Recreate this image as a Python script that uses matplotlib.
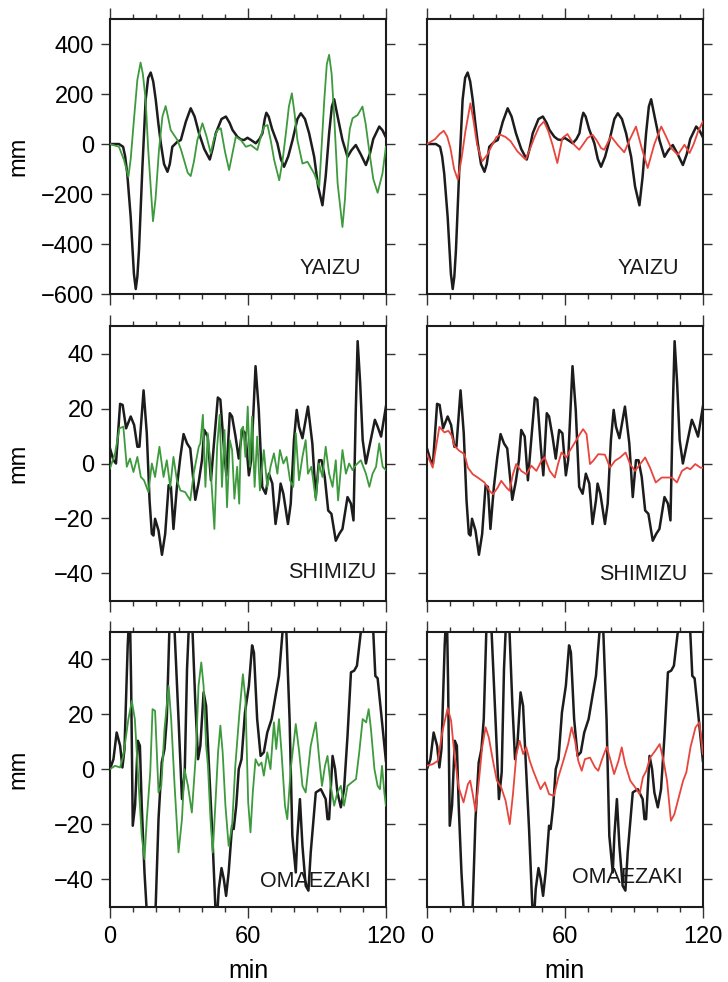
import matplotlib.pyplot as plt
from matplotlib.ticker import MultipleLocator, FixedLocator

plt.rcParams['font.family'] = ['Liberation Sans', 'DejaVu Sans']

# ---- YAIZU ----
yaizu_obs_t = [0, 3.9, 5.7, 6.6, 7.5, 9.0, 10.4, 11.2, 11.9, 12.6, 14.1, 15.5, 16.6, 17.7,
               18.8, 19.9, 21.0, 22.1, 23.5, 25.0, 26.0, 27.1, 29.3, 30.8, 33.0, 35.1, 36.8,
               38.7, 41.0, 43.4, 44.6, 46.0, 48.5, 50.4, 52.0, 53.3, 55.4, 57.0, 58.3, 59.8,
               61.5, 63.4, 65.0, 66.3, 67.3, 68.0, 69.0, 70.5, 72.8, 74.3, 75.7, 77.5, 79.4,
               81.5, 83.0, 84.8, 86.6, 88.8, 90.5, 92.4, 93.8, 95.3, 96.5, 97.5, 99.0, 101.1,
               103.3, 105.0, 106.9, 109.0, 111.3, 113.0, 114.5, 117.1, 118.5, 120]
yaizu_obs = [0, 0, -11, -50, -118, -292, -519, -580, -530, -425, -91, 177, 265, 286,
             250, 177, 85, 3, -80, -111, -80, -11, 9, 16, 90, 143, 110,
             43, -20, -62, -20, 43, 100, 110, 85, 56, 29, 18, 16, 25,
             15, 3, 20, 43, 100, 125, 110, 60, 3, -60, -91, -50, 16,
             100, 123, 100, 43, -51, -170, -245, -130, 43, 150, 179, 110, 16,
             -51, -25, -4, -40, -84, -40, 20, 70, 55, 27]
yaizu_a_t = [0, 3.9, 6.1, 8.0, 9.0, 10.4, 11.9, 13.3, 14.3, 15.5, 16.6, 17.7, 18.7, 19.8,
             21.3, 22.8, 24.2, 25.2, 26.4, 29.3, 30.8, 32.2, 33.8, 35.1, 36.5, 38.0, 40.2,
             42.0, 43.8, 45.2, 46.7, 48.2, 50.0, 51.8, 53.2, 54.7, 56.9, 59.1, 61.2, 64.1,
             65.6, 67.0, 68.5, 70.0, 71.4, 73.6, 75.0, 76.5, 77.8, 79.1, 80.3, 81.5, 83.7,
             85.9, 88.8, 91.0, 92.1, 93.2, 94.3, 95.3, 96.4, 97.5, 99.0, 101.1, 102.2, 103.3,
             104.3, 105.5, 107.7, 109.8, 111.2, 112.7, 114.5, 116.4, 118.5, 120]
yaizu_a = [0, -11, -64, -131, -60, 96, 257, 326, 280, 177, -20, -171, -309, -220,
           -24, 110, 152, 110, 56, 16, -20, -64, -115, -128, -70, 16, 83,
           30, -37, 20, 56, 63, -30, -104, -40, 29, 16, -11, -4, -24,
           30, 70, 76, 10, -64, -145, -70, 43, 150, 203, 120, 16, -78,
           -71, -118, -171, 0, 177, 320, 357, 280, 110, -158, -332, -220, -24,
           60, 103, 116, 150, 80, -24, -140, -195, -118, -11]
yaizu_b_t = [0, 3.6, 5.5, 7.3, 8.8, 10.2, 11.8, 13.4, 15.0, 16.7, 18.9, 20.3, 21.8, 24.0,
             26.2, 28.4, 30.2, 32.0, 34.2, 36.4, 39.3, 42.9, 44.8, 46.6, 48.8, 50.9, 52.8,
             54.6, 56.7, 58.9, 61.1, 64.0, 66.2, 68.0, 69.8, 72.0, 73.8, 75.7, 77.1, 80.0,
             82.9, 85.8, 88.3, 90.9, 93.5, 96.0, 98.9, 101.9, 104.0, 106.2, 109.1, 112.0,
             114.2, 116.0, 117.9, 120]
yaizu_b = [0, 20, 40, 53, 30, -16, -100, -142, -60, 50, 163, 90, -3, -69,
           -43, -3, 28, 37, 28, 11, -29, -62, -20, 24, 70, 90, 50,
           -3, -76, 24, 40, -3, -23, 0, 24, 37, 15, -16, -23, 31,
           -3, -33, 20, 70, -20, -96, 0, 70, 30, -16, -43, -3,
           -36, 0, 50, 90]

# ---- SHIMIZU ----
shimizu_obs_t = [0, 1.5, 2.6, 4.4, 5.5, 7.0, 9.0, 10.5, 11.9, 12.8, 14.6, 16.0, 17.2, 18.2,
                 18.9, 19.6, 21.1, 22.6, 24.0, 25.5, 26.5, 27.6, 29.1, 30.6, 32.0, 33.5, 34.9,
                 37.1, 38.6, 40.0, 41.0, 42.5, 43.9, 45.1, 46.9, 48.0, 49.5, 50.6, 52.1, 53.1,
                 54.6, 56.0, 57.5, 58.9, 60.4, 61.4, 63.3, 64.7, 66.2, 67.7, 69.1, 70.6, 72.0,
                 73.5, 74.2, 75.4, 77.4, 78.6, 80.0, 81.2, 82.2, 83.7, 85.1, 86.1, 88.0, 89.5,
                 90.9, 92.0, 93.4, 94.9, 96.3, 98.2, 99.7, 101.1, 103.3, 104.8, 105.9, 106.9,
                 107.7, 108.8, 109.9, 111.3, 112.8, 115.2, 116.4, 117.9, 119.3, 120]
shimizu_obs = [5.5, 1.2, 0, 21.7, 21.3, 12.8, 17.1, 14.0, 6.1, 6.1, 26.6, 11.0, -13.4, -25.6,
               -26.2, -20.1, -24.4, -33.2, -25.6, -7.9, -8.5, -23.8, -8.5, 2.4, 10.7, 7.3, 5.5,
               -13.2, -6.7, 1.2, 12.2, 9.8, -6.1, 6.1, 24.0, 23.2, 6.1, -4.3, 18.3, 17.1,
               9.8, 1.8, 12.2, 11.0, -4.3, 1.2, 35.4, 19.5, -8.5, -11.0, -3.7, -7.3, -22.0,
               -13.4, -7.3, -11.0, -22.0, -14.6, 8.5, 19.5, 13.4, 9.2, 15.9, 20.7, 7.3, -12.2,
               1.2, 1.2, -4.9, -17.1, -18.3, -28.1, -25.6, -23.8, -12.2, -14.6, -20.7, 19.5,
               44.5, 29.3, 8.5, 0, 6.1, 15.9, 13.4, 9.8, 17.1, 20.7]
shimizu_a_t = [0, 2.2, 4.1, 5.8, 7.3, 8.7, 10.2, 11.9, 13.4, 14.8, 16.7, 18.2, 19.6, 21.5,
               23.3, 24.7, 26.2, 27.6, 29.1, 30.6, 32.7, 34.9, 36.4, 38.6, 39.3, 40.4, 41.5,
               42.5, 43.7, 45.4, 46.6, 47.7, 48.7, 49.8, 50.9, 52.1, 53.1, 54.1, 55.3, 56.2,
               57.0, 57.9, 58.9, 59.9, 60.8, 61.8, 62.9, 64.0, 65.2, 66.9, 68.4, 69.8, 71.3,
               72.8, 73.9, 75.4, 76.8, 78.3, 79.7, 80.8, 82.2, 83.7, 85.1, 86.1, 87.6, 89.5,
               90.9, 92.4, 93.8, 95.3, 96.8, 98.2, 99.2, 101.1, 102.6, 104.0, 105.5, 106.9,
               109.1, 111.3, 112.8, 114.2, 115.7, 117.1, 118.6, 120]
shimizu_a = [-1.8, 3.7, 12.8, 13.4, -1.2, 1.8, -3.1, 2.4, -4.9, -6.1, -10.4, 0, -4.9, 6.1,
             -4.9, 1.2, -8.5, 2.4, -6.1, -9.8, -10.4, -13.4, -3.7, 6.1, 7.3, 17.7, -8.5,
             11.0, -1.2, -23.8, 6.1, 17.7, -8.5, 12.2, -15.9, 8.5, 4.9, -12.8, -1.2, -14.6,
             12.2, 13.4, 2.4, 20.7, -1.2, 17.1, -8.5, 9.8, -9.8, 4.9, -8.5, -1.2, 3.7,
             -3.7, 4.9, 0, 2.4, -6.1, -8.5, 11.0, -6.1, 2.4, 8.5, -3.7, -1.2, -13.4,
             0, -4.9, 6.1, -3.7, -8.5, 1.2, -13.4, 4.9, -3.7, 0, -2.4, -0.6,
             1.2, -3.7, -8.5, -3.7, -1.2, 7.3, -1.2, -2.4]
shimizu_b_t = [0, 2.5, 3.9, 5.4, 7.6, 9.3, 10.8, 11.9, 14.1, 16.3, 17.8, 19.9, 22.1, 25.0,
               27.2, 28.7, 30.8, 32.3, 34.5, 35.9, 37.4, 38.8, 41.0, 43.2, 45.4, 47.6, 49.8,
               51.2, 53.4, 55.6, 57.0, 58.5, 60.7, 62.1, 64.3, 66.5, 67.9, 69.4, 70.9, 72.3,
               74.5, 77.4, 79.6, 81.8, 84.0, 86.4, 88.3, 90.5, 92.7, 94.9, 97.0, 99.5, 102.1,
               104.3, 106.5, 108.7, 110.9, 113.1, 114.5, 116.7, 118.9, 120]
shimizu_b = [3.4, -1.5, 5.8, 13.3, 11.3, 11.9, 10.1, 6.4, 4.6, 3.4, -1.5, -3.9, -5.1, -6.9,
             -9.9, -11.2, -8.7, -6.3, -8.7, -9.9, -3.9, -0.2, -2.7, -3.9, -0.8, -2.7, 1.0,
             2.2, -2.7, -5.1, -0.2, 4.0, 2.2, 4.6, 7.6, 10.7, 12.5, 10.7, -0.2, 1.0,
             3.4, 3.2, -1.5, 1.0, 2.2, 4.0, -0.2, -2.7, -0.2, 2.2, -1.5, -6.9, -5.1,
             -5.1, -5.1, -6.9, -2.7, -1.5, -2.1, -0.2, -1.5, -1.5]

# ---- OMAEZAKI ----
omaezaki_obs_t = [0, 1.5, 2.9, 4.4, 5.4, 6.3, 7.7, 8.6, 9.2, 9.9, 10.9, 12.1, 13.0, 13.8,
                  15.0, 16.0, 17.5, 19.5, 19.9, 21.1, 22.5, 23.7, 24.7, 25.8, 27.0, 28.1, 29.8,
                  31.3, 32.5, 33.5, 34.2, 35.2, 35.9, 37.1, 38.3, 39.3, 40.7, 41.8, 42.9, 44.4,
                  45.8, 46.5, 47.3, 48.5, 49.5, 50.5, 51.6, 53.1, 53.8, 54.9, 56.0, 57.2, 58.7,
                  60.4, 61.8, 62.6, 64.0, 65.5, 66.9, 68.4, 70.3, 72.0, 73.5, 74.9, 76.0, 76.7,
                  78.1, 79.3, 80.8, 81.5, 82.6, 83.7, 85.1, 86.3, 87.3, 89.5, 91.7, 93.8, 94.6,
                  95.3, 96.8, 97.9, 98.9, 100.4, 101.8, 103.3, 104.8, 106.2, 107.4, 109.1,
                  111.5, 114.5, 115.4, 116.4, 117.9, 120]
omaezaki_obs = [0, 3.6, 13.3, 8.5, 0.6, 7.3, 45.0, 60, 30.3, -20.6, -13.3, 10.3, 8.5, -13.3,
                -37.6, -52, -70, -55, -49, -18.2, 2.4, 7.3, 18.2, 50, 65, 50, 18.2,
                -10.9, -1.2, 36.4, 50, 70, 50, 24.2, 3.6, 8.5, 27.9, 23.0, 3.6, -21.8,
                -49.7, -55, -43.6, -36.0, -40.0, -46.1, -37.6, -20.6, -21.8, -13.3, 0, 3.6, 20.6,
                30.3, 45.0, 42.4, 18.2, 4.8, 6.1, 13.3, 18.2, 26.7, 33.9, 48.5, 60, 50,
                18.2, -24.2, -37.6, -24.2, -10.9, -27.9, -42.4, -44.2, -30.3, -8.5, -7.3, -10.9, -18.2,
                -18.2, 4.8, 0, -8.5, -13.9, -7.3, 12.1, 35.2, 35.8, 37.6, 50,
                62, 50, 33.9, 33.0, 20.6, 3.0]
omaezaki_a_t = [0, 2.2, 4.4, 5.8, 8.0, 9.5, 10.8, 12.5, 13.8, 15.0, 16.0, 17.5, 18.5, 19.6,
                21.1, 22.3, 23.7, 25.5, 26.6, 28.1, 29.8, 31.3, 32.4, 33.9, 35.6, 37.4, 38.5,
                39.7, 40.7, 41.8, 42.6, 43.7, 44.7, 45.8, 47.0, 48.0, 49.0, 50.2, 51.6, 53.1,
                54.5, 56.3, 57.8, 58.9, 60.1, 61.1, 62.1, 63.3, 64.7, 65.9, 66.9, 68.4, 69.8,
                71.3, 72.3, 73.5, 74.6, 76.1, 77.1, 78.6, 80.8, 82.3, 83.7, 85.1, 87.3, 89.5,
                91.0, 92.2, 93.5, 94.6, 96.0, 97.5, 98.9, 100.4, 101.8, 103.3, 105.2, 107.0,
                108.4, 109.9, 111.4, 112.5, 113.5, 115.0, 116.4, 117.4, 118.3, 119.3, 120]
omaezaki_a = [0, 1.2, 0.6, 4.8, 18.2, 24.8, 18.2, -6.1, -24.2, -32.7, -18.2, -1.2, 21.8, 21.2,
              -8.5, -6.1, 14.5, 30.3, 18.2, -6.1, -30.3, -18.2, 0, -6.1, -15.8, 6.1, 30.3,
              38.8, 30.3, 8.5, 1.2, -18.2, -30.3, -13.3, 6.1, 15.8, 6.1, -13.3, -27.9, -20.6,
              1.2, 20.6, 34.5, 25.5, -12.1, -23.0, -8.5, 3.6, 1.2, 2.4, -2.4, 6.1, 0,
              17.0, 7.3, 18.2, 6.1, -13.3, -18.2, 0, 16.4, 6.1, -6.1, -8.5, 8.5, 17.0,
              3.6, -6.1, 1.2, 4.8, -6.1, -13.3, -8.5, -6.1, -13.3, -6.1, -4.8, -3.6,
              6.1, 18.2, 17.0, 21.8, 14.5, 0, -6.1, -7.3, 1.2, -8.5, -13.3]
omaezaki_b_t = [0, 2.5, 4.7, 6.8, 9.0, 10.5, 11.9, 13.8, 15.9, 17.8, 18.8, 19.9, 21.1, 22.6,
                24.0, 25.5, 26.9, 28.7, 30.4, 32.3, 34.2, 36.0, 37.4, 38.9, 40.3, 41.8, 43.2,
                44.7, 46.2, 47.9, 49.4, 51.3, 53.1, 55.2, 57.1, 59.3, 61.4, 62.9, 64.4, 65.8,
                67.3, 68.7, 70.9, 73.1, 74.5, 76.4, 78.2, 79.9, 81.4, 83.3, 84.7, 86.2, 88.4,
                90.6, 92.5, 93.9, 95.4, 97.1, 99.3, 101.2, 102.9, 104.4, 106.1, 107.6, 109.5,
                111.4, 112.8, 114.6, 116.8, 118.5, 120]
omaezaki_b = [1.2, 1.8, 3.0, 14.0, 22.2, 17.6, 5.5, -6.7, -12.1, -5.5, -4.2, -9.1, -15.2, -4.2,
              7.9, 15.2, 11.5, 3.0, -4.2, -6.7, -11.5, -20.0, -9.1, 5.5, 10.3, 5.5, 7.9,
              3.0, -0.6, -4.2, -7.3, -4.8, -9.1, -9.7, -3.0, 3.0, 9.1, 15.2, 10.3, 3.0,
              -0.6, 3.6, 4.2, 0.6, -0.6, 4.2, 8.1, 3.0, -1.8, 3.0, 7.9, 1.8, -4.2,
              -6.7, -9.1, -3.0, -0.6, 4.2, 6.7, 9.1, 3.0, -4.2, -18.8, -16.4, -10.3,
              -4.2, -1.2, 7.9, 15.2, 17.0, 5.5]

BLACK = '#1c1c1c'
GREEN = '#3d9a3d'
RED = '#e8453c'

fig = plt.figure(figsize=(7.28, 9.82), dpi=100)

# axes rectangles in figure fractions
col_left = [0.1511, 0.5865]
col_width = 0.379
row_bottom = [0.7006, 0.3880, 0.0768]
row_height = 0.280

rows = [
    ('YAIZU', (-600, 500), [-600, -400, -200, 0, 200, 400],
     yaizu_obs_t, yaizu_obs, yaizu_a_t, yaizu_a, yaizu_b_t, yaizu_b,
     [(0.910, 0.073), (0.913, 0.073)]),
    ('SHIMIZU', (-50, 50), [-40, -20, 0, 20, 40],
     shimizu_obs_t, shimizu_obs, shimizu_a_t, shimizu_a, shimizu_b_t, shimizu_b,
     [(0.964, 0.083), (0.942, 0.077)]),
    ('OMAEZAKI', (-50, 50), [-40, -20, 0, 20, 40],
     omaezaki_obs_t, omaezaki_obs, omaezaki_a_t, omaezaki_a, omaezaki_b_t, omaezaki_b,
     [(0.945, 0.073), (0.927, 0.084)]),
]

for r, (name, ylim, yticks, ot, ov, at, av, bt, bv, name_pos) in enumerate(rows):
    for c in range(2):
        ax = fig.add_axes([col_left[c], row_bottom[r], col_width, row_height])
        ax.plot(ot, ov, color=BLACK, lw=1.8, zorder=2, solid_joinstyle='round')
        if c == 0:
            ax.plot(at, av, color=GREEN, lw=1.3, zorder=3, solid_joinstyle='round')
        else:
            ax.plot(bt, bv, color=RED, lw=1.3, zorder=3, solid_joinstyle='round')

        ax.set_xlim(0, 120)
        ax.set_ylim(*ylim)
        ax.xaxis.set_major_locator(FixedLocator([0, 60, 120]))
        ax.xaxis.set_minor_locator(MultipleLocator(10))
        ax.yaxis.set_major_locator(FixedLocator(yticks))
        for sp in ax.spines.values():
            sp.set_linewidth(1.5)
            sp.set_color(BLACK)
        ax.tick_params(which='both', direction='out', top=True, right=True,
                       width=1.0, color='#333333', labelsize=17)
        ax.tick_params(axis='x', which='major', length=8, pad=6)
        ax.tick_params(axis='x', which='minor', length=3.5)
        ax.tick_params(axis='y', which='major', length=6.5, pad=5)
        ax.tick_params(axis='x', labelbottom=(r == 2))
        ax.tick_params(axis='y', labelleft=(c == 0))

        ax.text(name_pos[c][0], name_pos[c][1], name, transform=ax.transAxes,
                ha='right', va='baseline', fontsize=15.5, color='#1a1a1a')

        if c == 0:
            fig.text(18 / 728, row_bottom[r] + row_height / 2, 'mm', rotation=90,
                     ha='center', va='center', fontsize=17)
        if r == 2:
            fig.text(col_left[c] + col_width / 2, 0.004, 'min', ha='center',
                     va='baseline', fontsize=18)

fig.savefig('out.png', dpi=100)
